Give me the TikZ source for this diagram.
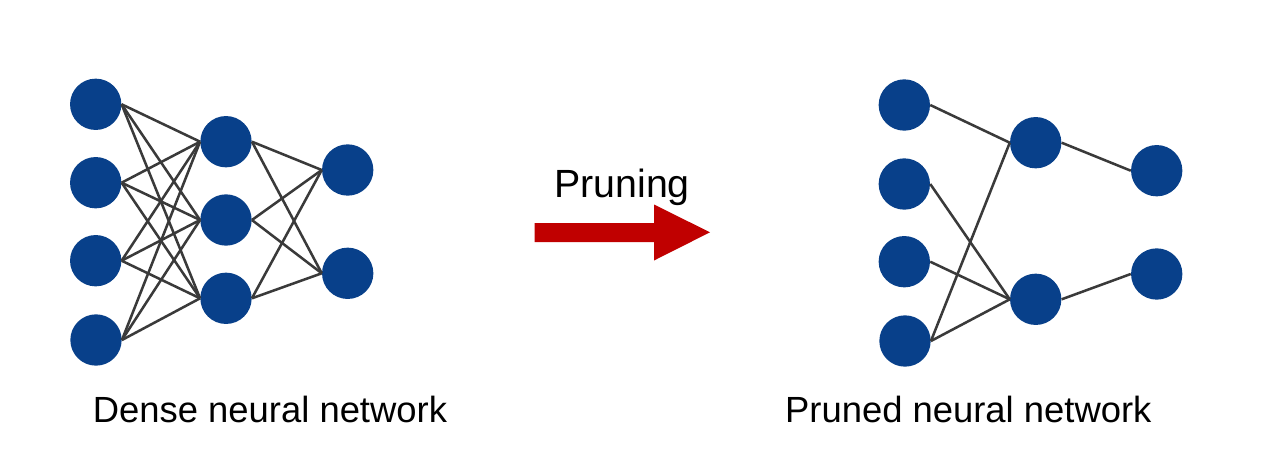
\documentclass[tikz,border=0pt]{standalone}
\usepackage{fontspec}
\setmainfont{Liberation Sans}
\definecolor{nodeblue}{RGB}{8,64,138}
\definecolor{edgegray}{RGB}{58,58,58}
\definecolor{arrowred}{RGB}{192,0,0}
\tikzset{
  neuron/.style={circle, fill=nodeblue, draw=none, inner sep=0pt, minimum size=38.5pt},
  link/.style={draw=edgegray, line width=1.9pt},
  caption/.style={anchor=base, font=\fontsize{27.3pt}{31pt}\selectfont, inner sep=0pt},
}
\begin{document}
\begin{tikzpicture}[x=0.75pt,y=-0.75pt]
\useasboundingbox (0,0) rectangle (1280,468);
% Dense network
\node[neuron] (a1) at (95.7,104.3) {};
\node[neuron] (a2) at (95.7,182.7) {};
\node[neuron] (a3) at (95.7,260.7) {};
\node[neuron] (a4) at (96,340) {};
\node[neuron] (b1) at (226,141.7) {};
\node[neuron] (b2) at (226,220) {};
\node[neuron] (b3) at (226,298.3) {};
\node[neuron] (c1) at (347.7,170) {};
\node[neuron] (c2) at (347.7,273.3) {};
\foreach \i in {a1,a2,a3,a4}{
  \foreach \j in {b1,b2,b3}{
    \draw[link] (\i.east) -- (\j.west);
  }
}
\foreach \i in {b1,b2,b3}{
  \foreach \j in {c1,c2}{
    \draw[link] (\i.east) -- (\j.west);
  }
}
% Pruned network
\node[neuron] (p1) at (904.3,105) {};
\node[neuron] (p2) at (904.3,184) {};
\node[neuron] (p3) at (904.3,261.7) {};
\node[neuron] (p4) at (905,341) {};
\node[neuron] (q1) at (1035.7,142.7) {};
\node[neuron] (q2) at (1035.7,299.3) {};
\node[neuron] (r1) at (1156.7,170.7) {};
\node[neuron] (r2) at (1156.7,274) {};
\draw[link] (p1.east) -- (q1.west);
\draw[link] (p2.east) -- (q2.west);
\draw[link] (p3.east) -- (q2.west);
\draw[link] (p4.east) -- (q1.west);
\draw[link] (p4.east) -- (q2.west);
\draw[link] (q1.east) -- (r1.west);
\draw[link] (q2.east) -- (r2.west);
% Arrow
\fill[arrowred] (534.5,223) -- (654,223) -- (654,204.5) -- (710,232.3) -- (654,260.5) -- (654,242) -- (534.5,242) -- cycle;
\node[caption, font=\fontsize{29.5pt}{33pt}\selectfont] (prune) at (622,197) {Pruning};
% Labels
\node[caption] (dense) at (270,422.7) {Dense neural network};
\node[caption] (pruned) at (968.3,422.7) {Pruned neural network};
\end{tikzpicture}
\end{document}
